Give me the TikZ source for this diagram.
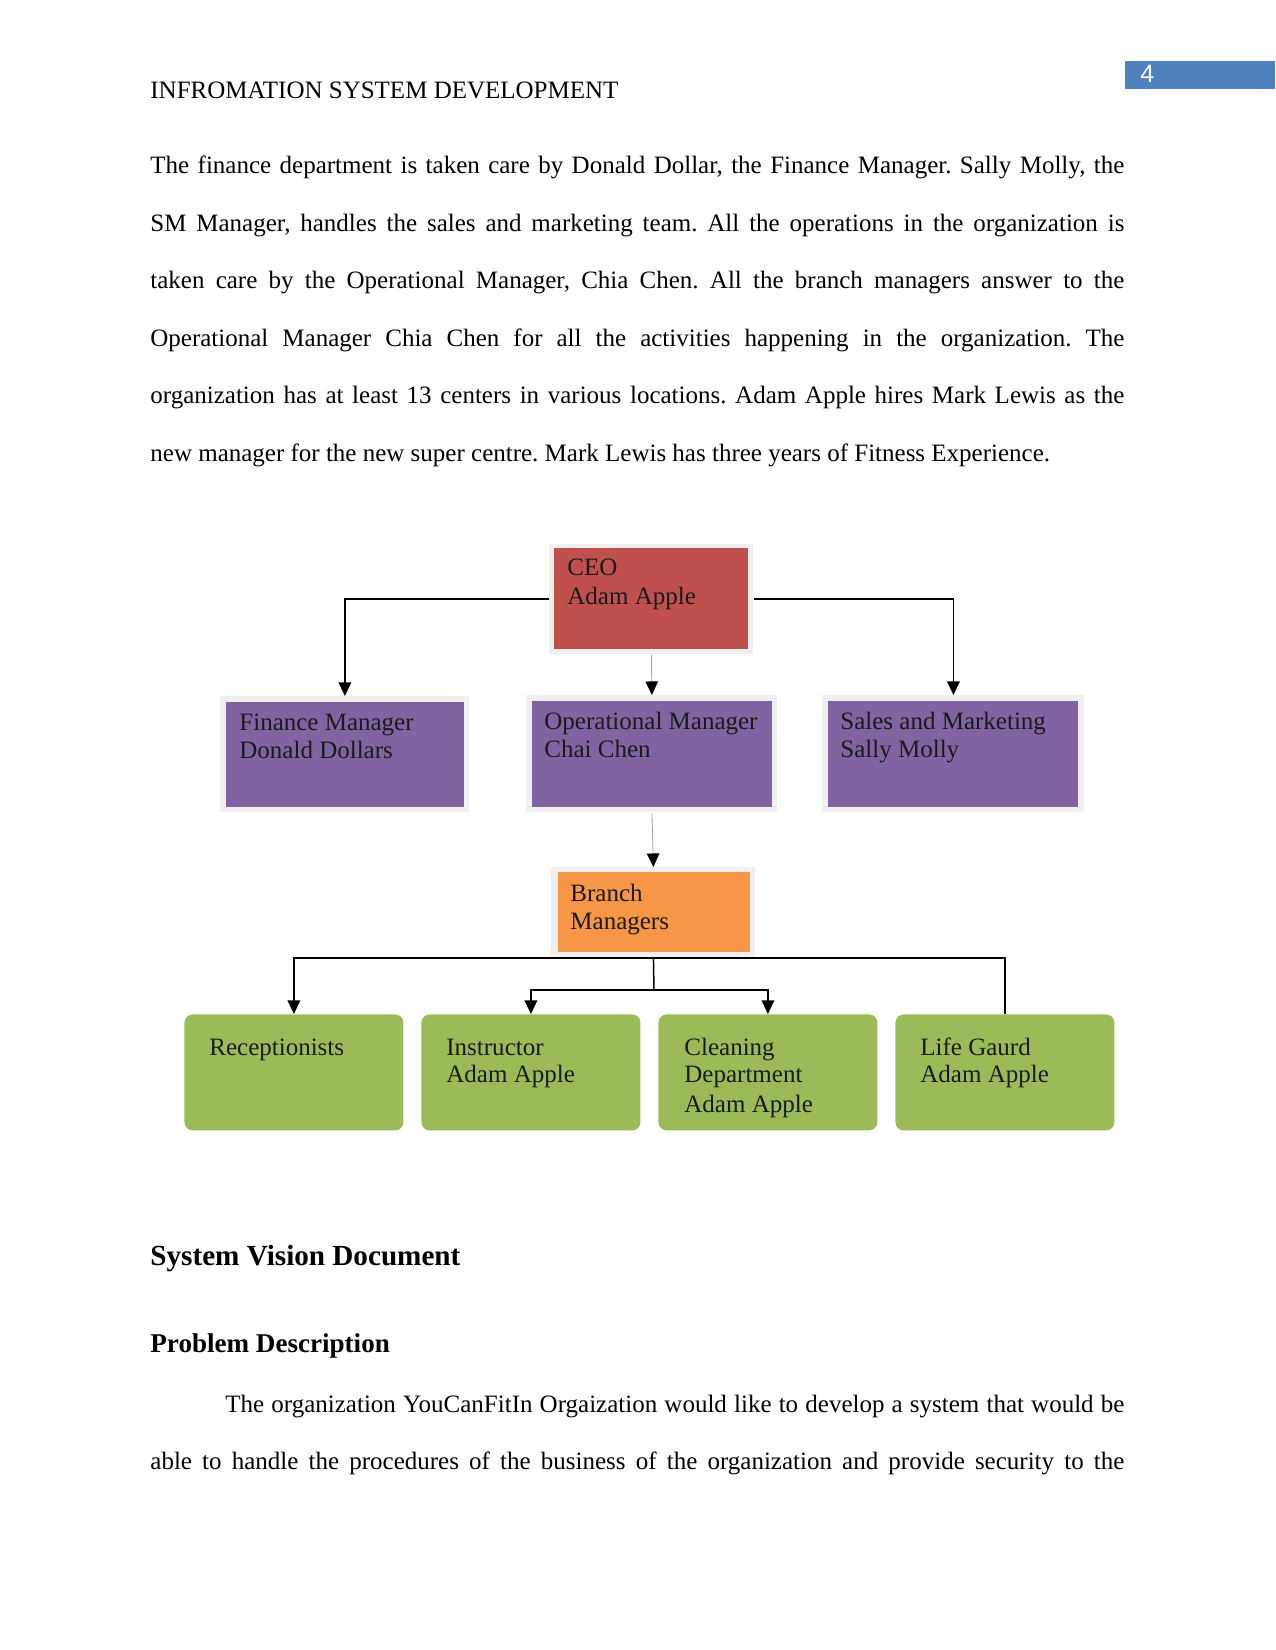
\documentclass[tikz,border=0pt]{standalone}
\usepackage{fontspec}
\setmainfont{Liberation Serif}
\newfontfamily\pnumfont{Liberation Sans}
\usetikzlibrary{arrows.meta}
\frenchspacing
\definecolor{ceored}{HTML}{C0504D}
\definecolor{mgrpurple}{HTML}{8064A2}
\definecolor{brorange}{HTML}{F79646}
\definecolor{stfgreen}{HTML}{9BBB59}
\definecolor{pnblue}{HTML}{4F81BD}
\definecolor{glow}{HTML}{F0F0F0}
\definecolor{boxtext}{HTML}{1A1A1A}
\tikzset{
  txtline/.style={anchor=base west, inner sep=0pt, font=\fontsize{12}{14}\selectfont},
  boxlbl/.style={anchor=base west, inner sep=0pt, font=\fontsize{12}{14}\selectfont, text=boxtext},
  glowbox/.style={anchor=north west, fill=glow, draw=none, inner sep=0pt},
  sqbox/.style={anchor=north west, draw=none, inner sep=0pt},
  greenbox/.style={anchor=north west, fill=stfgreen, draw=none, inner sep=0pt, rounded corners=4pt},
  conn/.style={draw=black, line width=0.7pt, -{Triangle[length=6.5pt,width=6pt]}},
  plainconn/.style={draw=black, line width=0.7pt},
  grayconn/.style={draw=gray!70, line width=0.4pt, -{Triangle[length=6.5pt,width=6pt,color=black]}}
}
\begin{document}
\begin{tikzpicture}[x=0.48pt,y=-0.48pt]
\useasboundingbox (0,0) rectangle (1275,1650);
% header
\node[txtline] (hdr) at (150,99) {INFROMATION SYSTEM DEVELOPMENT};
\node[sqbox, fill=pnblue, minimum width=150*0.48pt, minimum height=28*0.48pt] (pnbox) at (1125,61) {};
\node[anchor=base west, inner sep=0pt, text=white, font=\pnumfont\fontsize{12}{14}\selectfont] (pnum) at (1140,83) {4};
% paragraph
\node[txtline] (p1) at (150,174) {\makebox[467.5pt][s]{The finance department is taken care by Donald Dollar, the Finance Manager. Sally Molly, the}};
\node[txtline] (p2) at (150,232) {\makebox[467.5pt][s]{SM Manager, handles the sales and marketing team. All the operations in the organization is}};
\node[txtline] (p3) at (150,289) {\makebox[467.5pt][s]{taken care by the Operational Manager, Chia Chen. All the branch managers answer to the}};
\node[txtline] (p4) at (150,347) {\makebox[467.5pt][s]{Operational Manager Chia Chen for all the activities happening in the organization. The}};
\node[txtline] (p5) at (150,404) {\makebox[467.5pt][s]{organization has at least 13 centers in various locations. Adam Apple hires Mark Lewis as the}};
\node[txtline] (p6) at (150,462) {new manager for the new super centre. Mark Lewis has three years of Fitness Experience.};
% CEO
\node[glowbox, minimum width=204*0.48pt, minimum height=110*0.48pt] (ceoout) at (549,544) {};
\node[sqbox, fill=ceored, minimum width=194*0.48pt, minimum height=101*0.48pt] (ceo) at (554,548) {};
\node[boxlbl] (ceo1) at (567,575) {CEO};
\node[boxlbl] (ceo2) at (567,604) {Adam Apple};
% Managers
\node[glowbox, minimum width=249*0.48pt, minimum height=116*0.48pt] (finout) at (220,696) {};
\node[sqbox, fill=mgrpurple, minimum width=238*0.48pt, minimum height=105*0.48pt] (fin) at (226,702) {};
\node[boxlbl] (fin1) at (239,730) {Finance Manager};
\node[boxlbl] (fin2) at (239,758) {Donald Dollars};
\node[glowbox, minimum width=251*0.48pt, minimum height=117*0.48pt] (opsout) at (526,695) {};
\node[sqbox, fill=mgrpurple, minimum width=240*0.48pt, minimum height=106*0.48pt] (ops) at (532,701) {};
\node[boxlbl] (ops1) at (544,729) {Operational Manager};
\node[boxlbl] (ops2) at (544,757) {Chai Chen};
\node[glowbox, minimum width=262*0.48pt, minimum height=117*0.48pt] (smout) at (822,695) {};
\node[sqbox, fill=mgrpurple, minimum width=250*0.48pt, minimum height=106*0.48pt] (sm) at (828,701) {};
\node[boxlbl] (sm1) at (840,729) {Sales and Marketing};
\node[boxlbl] (sm2) at (840,757) {Sally Molly};
% Branch
\node[glowbox, minimum width=204*0.48pt, minimum height=90*0.48pt] (brout) at (551,867) {};
\node[sqbox, fill=brorange, minimum width=192*0.48pt, minimum height=80*0.48pt] (br) at (558,872) {};
\node[boxlbl] (br1) at (570,901) {Branch};
\node[boxlbl] (br2) at (570,929) {Managers};
% Staff
\node[greenbox, minimum width=219*0.48pt, minimum height=116*0.48pt] (rec) at (184,1014) {};
\node[boxlbl] (rec1) at (209,1055) {Receptionists};
\node[greenbox, minimum width=219*0.48pt, minimum height=116*0.48pt] (ins) at (421,1014) {};
\node[boxlbl] (ins1) at (446,1055) {Instructor};
\node[boxlbl] (ins2) at (446,1082) {Adam Apple};
\node[greenbox, minimum width=219*0.48pt, minimum height=116*0.48pt] (cln) at (658,1014) {};
\node[boxlbl] (cln1) at (684,1055) {Cleaning};
\node[boxlbl] (cln2) at (684,1082) {Department};
\node[boxlbl] (cln3) at (684,1112) {Adam Apple};
\node[greenbox, minimum width=219*0.48pt, minimum height=116*0.48pt] (life) at (895,1014) {};
\node[boxlbl] (life1) at (920,1055) {Life Gaurd};
\node[boxlbl] (life2) at (920,1082) {Adam Apple};
% connectors
\draw[conn] (ceoout.west |- 0,599) -| (finout.north);
\draw[conn] (ceoout.east |- 0,599) -| (smout.north);
\draw[grayconn] (ceoout.south) -- (opsout.north);
\draw[grayconn] (opsout.south) -- (brout.north);
\coordinate (bus) at (654,958);
\coordinate (mid) at (654,990);
\draw[conn] (bus) -| (rec.north);
\draw[plainconn] (bus) -| (life.north);
\draw[plainconn] (brout.south) -- (mid);
\draw[conn] (mid) -| (ins.north);
\draw[conn] (mid) -| (cln.north);
% headings and following text
\node[anchor=base west, inner sep=0pt, font=\fontsize{14}{16}\selectfont\bfseries] (h1) at (150,1265) {System Vision Document};
\node[anchor=base west, inner sep=0pt, font=\fontsize{13}{15}\selectfont\bfseries] (h2) at (150,1352) {Problem Description};
\node[txtline] (q1) at (225,1412) {\makebox[431.5pt][s]{The organization YouCanFitIn Orgaization would like to develop a system that would be}};
\node[txtline] (q2) at (150,1469) {\makebox[467.5pt][s]{able to handle the procedures of the business of the organization and provide security to the}};
\end{tikzpicture}
\end{document}
